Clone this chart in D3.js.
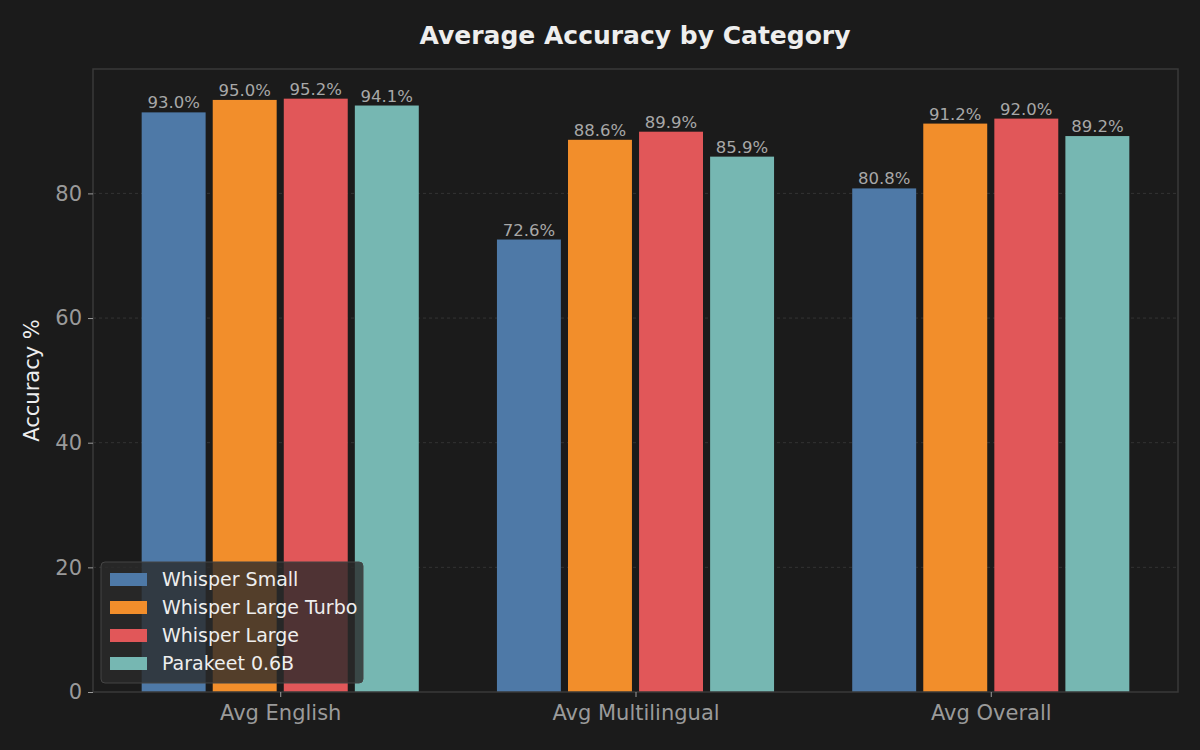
<!DOCTYPE html>
<html lang="en">
  <head>
    <meta charset="UTF-8" />
    <title>Average Accuracy by Category</title>
    <script src="https://d3js.org/d3.v7.min.js"></script>
    <style>
      body { margin: 0; background: #1b1b1b; }
      svg { display: block; font-family: 'DejaVu Sans', sans-serif; }
    </style>
  </head>
  <body>
    <svg width="1200" height="750"></svg>
    <script>
      const categories = ['Avg English', 'Avg Multilingual', 'Avg Overall'];
      const models = ['Whisper Small', 'Whisper Large Turbo', 'Whisper Large', 'Parakeet 0.6B'];
      const colors = ['#4e79a7', '#f28e2b', '#e15759', '#76b7b2'];
      const whisperSmall = [93.0, 72.6, 80.8];
      const whisperLargeTurbo = [95.0, 88.6, 91.2];
      const whisperLarge = [95.2, 89.9, 92.0];
      const parakeet = [94.1, 85.9, 89.2];
      const yTicks = [0, 20, 40, 60, 80];

      const series = [whisperSmall, whisperLargeTurbo, whisperLarge, parakeet];
      const svg = d3.select('svg');
      const plotL = 93, plotR = 1178, plotT = 69, plotB = 692;

      const x = d3.scaleLinear().domain([-0.527, 2.527]).range([plotL, plotR]);
      const y = d3.scaleLinear().domain([0, 99.96]).range([plotB, plotT]);
      const barW = 0.18, step = 0.2;

      // grid
      svg.append('g')
        .selectAll('line')
        .data(yTicks.filter((d) => d > 0))
        .join('line')
        .attr('x1', plotL).attr('x2', plotR)
        .attr('y1', (d) => y(d)).attr('y2', (d) => y(d))
        .attr('stroke', '#3a3a3a')
        .attr('stroke-width', 0.8)
        .attr('stroke-dasharray', '3,3');

      // bars
      series.forEach((vals, i) => {
        const g = svg.append('g');
        const off = (i - 1.5) * step;
        g.selectAll('rect')
          .data(vals)
          .join('rect')
          .attr('x', (d, j) => x(j + off - barW / 2))
          .attr('width', x(barW) - x(0))
          .attr('y', (d) => y(d))
          .attr('height', (d) => y(0) - y(d))
          .attr('fill', colors[i]);
        g.selectAll('text')
          .data(vals)
          .join('text')
          .attr('x', (d, j) => x(j + off))
          .attr('y', (d) => y(d) - 4)
          .attr('text-anchor', 'middle')
          .attr('fill', '#a8a8a8')
          .attr('font-size', 16.5)
          .text((d) => d.toFixed(1) + '%');
      });

      // frame
      svg.append('rect')
        .attr('x', plotL).attr('y', plotT)
        .attr('width', plotR - plotL).attr('height', plotB - plotT)
        .attr('fill', 'none')
        .attr('stroke', '#3a3a3a')
        .attr('stroke-width', 1.5);

      // y axis
      const yAxis = svg.append('g')
        .attr('transform', `translate(${plotL},0)`)
        .call(d3.axisLeft(y).tickValues(yTicks).tickSize(5).tickPadding(6));
      yAxis.select('.domain').remove();
      yAxis.selectAll('line').attr('stroke', '#9a9a9a');
      yAxis.selectAll('text').attr('fill', '#9a9a9a').attr('font-size', 21)
        .attr('font-family', 'DejaVu Sans');

      // x axis
      const xAxis = svg.append('g')
        .attr('transform', `translate(0,${plotB})`)
        .call(d3.axisBottom(x).tickValues([0, 1, 2])
          .tickFormat((d) => categories[d]).tickSize(5).tickPadding(8));
      xAxis.select('.domain').remove();
      xAxis.selectAll('line').attr('stroke', '#9a9a9a');
      xAxis.selectAll('text').attr('fill', '#9a9a9a').attr('font-size', 21)
        .attr('font-family', 'DejaVu Sans');

      // title
      svg.append('text')
        .attr('x', (plotL + plotR) / 2 - 0.5).attr('y', 44)
        .attr('text-anchor', 'middle')
        .attr('fill', '#eeeeee')
        .attr('font-size', 25)
        .attr('font-weight', 'bold')
        .text('Average Accuracy by Category');

      svg.append('text')
        .attr('transform', `translate(39,${(plotT + plotB) / 2}) rotate(-90)`)
        .attr('text-anchor', 'middle')
        .attr('fill', '#eeeeee')
        .attr('font-size', 21)
        .text('Accuracy %');

      // legend
      const lg = svg.append('g');
      lg.append('rect')
        .attr('x', 101).attr('y', 562)
        .attr('width', 262).attr('height', 121)
        .attr('rx', 4)
        .attr('fill', '#2a2a2a')
        .attr('fill-opacity', 0.8)
        .attr('stroke', '#454545');
      models.forEach((m, i) => {
        const cy = 579 + i * 28;
        lg.append('rect')
          .attr('x', 110).attr('y', cy - 6)
          .attr('width', 37).attr('height', 13)
          .attr('fill', colors[i]);
        lg.append('text')
          .attr('x', 162).attr('y', cy + 7)
          .attr('fill', '#eeeeee')
          .attr('font-size', 19)
          .text(m);
      });
    </script>
  </body>
</html>
